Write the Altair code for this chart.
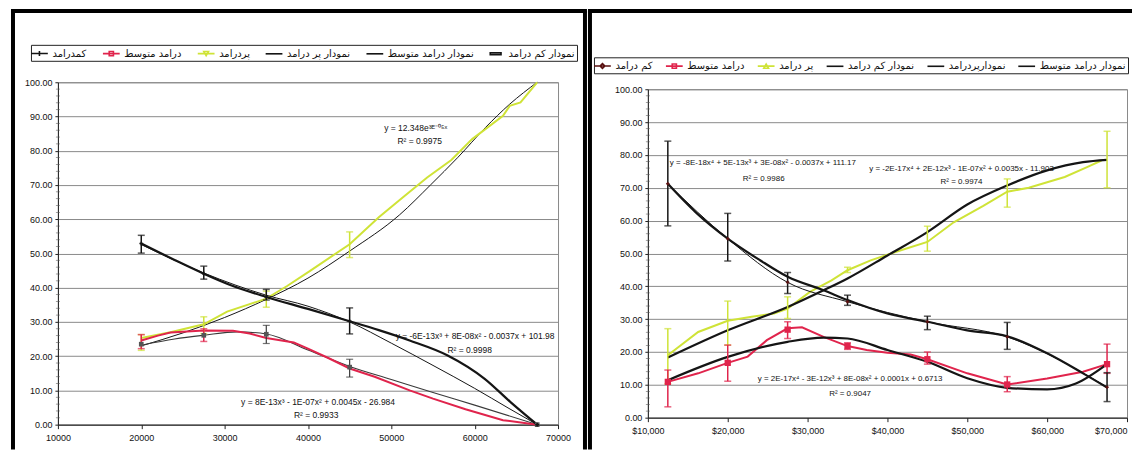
import altair as alt
import pandas as pd

# ---------------- shared axis ticks ----------------
Y_TICKS = [0, 10, 20, 30, 40, 50, 60, 70, 80, 90, 100]
Y_MINOR = [v for v in range(2, 100, 2) if v % 10 != 0]
X_TICKS = [10000, 20000, 30000, 40000, 50000, 60000, 70000]

# ---------------- LEFT PANEL ----------------
L_LEGEND = ["کمدرامد", "درامد متوسط", "پردرامد", "نمودار پر درامد", "نمودار درامد متوسط", "نمودار کم درامد"]

L_PT_X = [20000, 27500, 35000, 45000, 67500]
L_LOW_PT = [52.9, 44.1, 37.3, 30.2, 0.0]
L_MID_PT = [23.5, 26.1, 26.4, 16.8, 0.0]

L_ERR_X = [20000, 27500, 35000, 45000]
L_LOW_LO = [50.1, 42.5, 36.4, 26.5]
L_LOW_HI = [55.3, 46.3, 39.5, 34.1]
L_MID_LO = [22.2, 24.3, 23.7, 13.9]
L_MID_HI = [26.3, 28.0, 29.0, 19.1]
L_HIGH_LO = [21.7, 26.6, 34.3, 48.8]
L_HIGH_HI = [26.3, 31.5, 39.0, 56.3]

L_LOW_X = [20000, 24000, 27500, 31000, 35000, 40000, 45000, 48500, 52200, 56700, 61200, 64300, 67500]
L_LOW_Y = [52.9, 48.1, 44.1, 40.5, 37.3, 33.8, 30.2, 27.6, 24.6, 20.3, 13.4, 6.6, 0.0]
L_LOWT_X = [20000, 27500, 35000, 40000, 45000, 50000, 55000, 60000, 64000, 67500]
L_LOWT_Y = [52.6, 44.3, 37.8, 34.6, 30.0, 23.8, 17.3, 10.6, 4.9, 0.0]

L_MID_X = [20000, 22000, 23500, 27500, 31000, 33000, 35000, 38300, 40000, 42500, 45000, 48000, 52200, 55000, 58900, 63400, 67500]
L_MID_Y = [24.6, 26.0, 26.9, 27.5, 27.4, 26.6, 25.3, 24.0, 22.2, 19.4, 16.4, 14.0, 10.0, 7.6, 4.5, 1.3, 0.0]
L_MIDT_X = [20000, 24000, 27500, 31500, 35000, 40000, 45000, 50000, 55000, 60000, 67500]
L_MIDT_Y = [23.2, 25.0, 26.1, 27.1, 26.5, 21.8, 17.0, 13.2, 9.4, 5.7, 0.0]

L_HIGH_X = [20000, 23500, 27500, 30300, 35000, 37500, 40300, 45000, 48500, 51400, 54300, 57200, 59700, 63400, 64200, 65500, 67500]
L_HIGH_Y = [25.3, 27.0, 29.3, 33.0, 36.8, 40.5, 45.0, 52.7, 60.6, 66.4, 72.2, 77.3, 83.4, 90.2, 93.1, 94.1, 100.0]
L_HIGHT_X = [20000, 25000, 30000, 35000, 40000, 45000, 51000, 54700, 58000, 61300, 64200, 67500]
L_HIGHT_Y = [23.0, 26.8, 31.3, 36.6, 42.8, 50.7, 61.3, 70.0, 78.1, 86.8, 93.6, 100.0]

L_EQ_TEXT = ["y = 12.348e³ᴱ⁻⁰⁵ˣ", "R² = 0.9975",
             "y = -6E-13x³ + 8E-08x² - 0.0037x + 101.98", "R² = 0.9998",
             "y = 8E-13x³ - 1E-07x² + 0.0045x - 26.984", "R² = 0.9933"]
L_EQ_X = [52930, 53400, 60050, 59400, 41210, 40990]
L_EQ_Y = [86.7, 82.9, 25.8, 21.7, 6.6, 2.9]

# ---------------- RIGHT PANEL ----------------
R_LEGEND = ["کم درامد", "درامد متوسط", "پر درامد", "نمودار کم درامد", "نمودارپردرامد", "نمودار درامد متوسط"]

R_PT_X = [12500, 20000, 27500, 35000, 45000, 55000, 67500]
R_LOW_PT = [71.2, 54.5, 41.2, 35.3, 29.2, 24.6, 9.3]
R_LOW_LO = [58.4, 47.7, 37.8, 34.2, 26.8, 20.8, 4.9]
R_LOW_HI = [84.2, 62.2, 44.2, 37.3, 30.9, 29.0, 13.7]
R_MID_PT = [10.9, 16.7, 26.8, 21.8, 17.8, 10.1, 16.3]
R_MID_LO = [3.3, 11.1, 24.1, 20.8, 16.3, 7.9, 13.5]
R_MID_HI = [14.5, 22.1, 29.2, 22.8, 20.0, 12.5, 22.4]
R_HIGH_PT = [18.7, 28.8, 33.5, 45.0, 54.5, 68.4, 78.6]
R_HIGH_LO = [10.3, 22.1, 30.2, 44.2, 50.7, 64.1, 70.0]
R_HIGH_HI = [27.1, 35.5, 36.8, 45.8, 58.3, 72.7, 87.2]

R_LOWT_X = [12500, 16000, 20000, 24000, 27500, 32000, 35000, 40000, 45000, 50000, 55000, 60000, 64500, 67500]
R_LOWT_Y = [71.2, 62.5, 54.5, 48.0, 42.9, 38.8, 35.8, 31.7, 29.2, 26.6, 24.8, 19.6, 13.5, 9.2]

R_MID_X = [12500, 16300, 20000, 22500, 24900, 27500, 29300, 32000, 35000, 37400, 40000, 42900, 45000, 50000, 55000, 60000, 64500, 67500]
R_MID_Y = [10.9, 13.5, 16.7, 18.6, 23.6, 27.2, 27.5, 24.6, 21.8, 20.6, 19.8, 19.2, 17.8, 13.5, 10.1, 11.9, 14.0, 16.3]
R_MIDT_X = [12500, 20000, 27500, 32000, 35000, 40000, 45000, 50000, 55000, 60000, 63600, 67500]
R_MIDT_Y = [11.4, 18.5, 23.1, 24.4, 24.1, 20.6, 17.0, 12.0, 9.1, 8.6, 10.4, 16.3]

R_HIGH_X = [12500, 16300, 20000, 23000, 25800, 27500, 30300, 33000, 35000, 37900, 41100, 45000, 48300, 52000, 55000, 57700, 60000, 62200, 65000, 66800]
R_HIGH_Y = [19.0, 26.1, 29.5, 30.7, 31.7, 33.2, 38.3, 41.8, 44.9, 47.9, 50.5, 53.5, 59.5, 64.5, 68.8, 70.0, 71.7, 73.3, 76.3, 78.3]
R_HIGHT_X = [12500, 20000, 27500, 32000, 35000, 40000, 45000, 50000, 55000, 60000, 64500, 67500]
R_HIGHT_Y = [18.3, 26.6, 33.7, 38.8, 42.4, 49.4, 56.5, 64.9, 70.7, 75.3, 77.8, 78.5]

R_EQ_TEXT = ["y = -8E-18x⁴ + 5E-13x³ + 3E-08x² - 0.0037x + 111.17", "R² = 0.9986",
             "y = -2E-17x⁴ + 2E-12x³ - 1E-07x² + 0.0035x - 11.903", "R² = 0.9974",
             "y = 2E-17x⁴ - 3E-12x³ + 8E-08x² + 0.0001x + 0.6713", "R² = 0.9047"]
R_EQ_X = [24400, 24500, 49280, 49280, 35320, 35320]
R_EQ_Y = [77.6, 72.7, 75.8, 71.7, 11.7, 7.1]

# ---------------- styling ----------------
BLACK = "#151515"
RED = "#e0244c"
YELLOW = "#cfe337"
DARK = "#3a3a3a"
MAROON = "#5a1212"
AXFONT = "Liberation Sans"

SYM_PLUS = "M-1.4,0H1.4M0,-0.4V0.4"
SYM_SQUARE = "M-1.4,0H1.4M-0.35,-0.35H0.35V0.35H-0.35Z"
SYM_TRI_DOWN = "M-1.4,0H1.4M-0.4,-0.35H0.4L0,0.35Z"
SYM_TRI_UP = "M-1.4,0H1.4M-0.4,0.35H0.4L0,-0.35Z"
SYM_DIAMOND = "M-1.4,0H1.4M0,-0.4L0.4,0L0,0.4L-0.4,0Z"
SYM_LINE = "M-1.4,0H1.4"
SYM_BAR = "M-0.9,-0.15H0.9V0.15H-0.9Z"


def xenc(fmt, last_right=False):
    extra = {}
    if last_right:
        extra["labelAlign"] = {"condition": {"test": "datum.value >= 70000", "value": "right"}, "value": "center"}
    return alt.X("x:Q", scale=alt.Scale(domain=[10000, 70000], nice=False, zero=False),
                 axis=alt.Axis(values=X_TICKS, format=fmt, grid=False, title=None,
                               labelFont=AXFONT, labelFontSize=9, labelColor="#111",
                               tickSize=4, tickColor="#222", domainColor="#222",
                               labelPadding=5, labelAngle=0, labelFlush=False, **extra))


def yenc(field):
    return alt.Y(field, scale=alt.Scale(domain=[0, 100], nice=False, zero=True),
                 axis=alt.Axis(values=Y_TICKS, format=".2f", grid=True, title=None,
                               gridColor="#8a8a8a", gridWidth=1,
                               labelFont=AXFONT, labelFontSize=9, labelColor="#111",
                               tickSize=3, tickColor="#222", domainColor="#222",
                               labelPadding=3, labelFlush=False))


def line(xs, ys, color, width, xe, interp="linear"):
    df = pd.DataFrame({"x": xs, "y": ys})
    return alt.Chart(df).mark_line(color=color, strokeWidth=width, interpolate=interp).encode(
        x=xe, y=yenc("y:Q"))


def points(xs, ys, color, shape, size, xe):
    df = pd.DataFrame({"x": xs, "y": ys})
    return alt.Chart(df).mark_point(color=color, shape=shape, size=size, filled=True, opacity=1).encode(
        x=xe, y=yenc("y:Q"))


def minor_ticks(xe):
    df = pd.DataFrame({"x": [10000] * len(Y_MINOR), "y": Y_MINOR})
    return alt.Chart(df).mark_tick(color="#555", orient="horizontal", size=4, thickness=0.8).encode(
        x=xe, y=yenc("y:Q"))


def errbars(xs, lo, hi, color, xe, width=1.5, cap=7):
    df = pd.DataFrame({"x": xs, "lo": lo, "hi": hi})
    base = alt.Chart(df)
    r = base.mark_rule(color=color, strokeWidth=width).encode(x=xe, y=yenc("lo:Q"), y2="hi:Q")
    t1 = base.mark_tick(color=color, orient="horizontal", size=cap, thickness=width).encode(x=xe, y=yenc("lo:Q"))
    t2 = base.mark_tick(color=color, orient="horizontal", size=cap, thickness=width).encode(x=xe, y=yenc("hi:Q"))
    return [r, t1, t2]


def texts(xs, ys, labels, xe, size, align="center"):
    df = pd.DataFrame({"x": xs, "y": ys, "t": labels})
    return alt.Chart(df).mark_text(font=AXFONT, fontSize=size, color="#111", align=align).encode(
        x=xe, y=yenc("y:Q"), text="t:N")


ONE = pd.DataFrame({"a": [0]})


def hframe(x1, x2, y, w=4):
    return alt.Chart(ONE).mark_rule(color="black", strokeWidth=w).encode(
        x=alt.value(x1), x2=alt.value(x2), y=alt.value(y))


def vframe(x, y1, y2, w=4):
    return alt.Chart(ONE).mark_rule(color="black", strokeWidth=w).encode(
        x=alt.value(x), y=alt.value(y1), y2=alt.value(y2))


def legend_layer(labels, colors, shapes, lx, ly, colpad):
    leg = alt.Legend(orient="none", legendX=lx, legendY=ly, direction="horizontal", title=None,
                     labelFont="DejaVu Sans", labelFontSize=10, labelColor="#111",
                     symbolSize=144, symbolStrokeWidth=1.6, symbolOpacity=1,
                     strokeColor="#222", fillColor="white", padding=1.5,
                     columnPadding=colpad, labelOffset=6, labelLimit=300)
    df = pd.DataFrame({"item": labels})
    return alt.Chart(df).mark_point(opacity=0, filled=False).encode(
        color=alt.Color("item:N", scale=alt.Scale(domain=labels, range=colors), legend=leg),
        shape=alt.Shape("item:N", scale=alt.Scale(domain=labels, range=shapes), legend=leg))


# ---------------- LEFT PANEL BUILD ----------------
LW, LH = 501, 343
xl = xenc("d")
left_layers = [
    line(L_HIGHT_X, L_HIGHT_Y, BLACK, 1.0, xl, "monotone"),
    line(L_HIGH_X, L_HIGH_Y, YELLOW, 2.0, xl),
    line(L_MIDT_X, L_MIDT_Y, DARK, 1.1, xl, "monotone"),
    line(L_MID_X, L_MID_Y, RED, 2.0, xl),
    line(L_LOWT_X, L_LOWT_Y, BLACK, 1.0, xl, "monotone"),
    line(L_LOW_X, L_LOW_Y, BLACK, 2.2, xl, "monotone"),
]
left_layers += errbars(L_ERR_X, L_HIGH_LO, L_HIGH_HI, YELLOW, xl)
left_layers += errbars(L_ERR_X[:2], L_MID_LO[:2], L_MID_HI[:2], RED, xl)
left_layers += errbars(L_ERR_X[2:], L_MID_LO[2:], L_MID_HI[2:], DARK, xl, width=1.2)
left_layers += errbars(L_ERR_X, L_LOW_LO, L_LOW_HI, BLACK, xl)
left_layers += [
    minor_ticks(xl),
    points(L_PT_X, L_MID_PT, "#555", "square", 22, xl),
    points(L_PT_X, L_LOW_PT, BLACK, "cross", 14, xl),
    texts(L_EQ_X, L_EQ_Y, L_EQ_TEXT, xl, 8.5),
    legend_layer(L_LEGEND, [BLACK, RED, YELLOW, BLACK, BLACK, BLACK],
                 [SYM_PLUS, SYM_SQUARE, SYM_TRI_DOWN, SYM_LINE, SYM_LINE, SYM_BAR], -27, -37.5, 12),
    hframe(-47, 530, -71.5),
    vframe(-45, -71.5, 368),
    vframe(528, -71.5, 368),
]
left = alt.layer(*left_layers).properties(width=LW, height=LH)

# ---------------- RIGHT PANEL BUILD ----------------
RW, RH = 480, 329
xr = xenc("$,d", last_right=True)
right_layers = [
    line(R_HIGH_X, R_HIGH_Y, YELLOW, 2.0, xr),
    line(R_MID_X, R_MID_Y, RED, 2.0, xr),
    line(R_PT_X, R_LOW_PT, BLACK, 1.0, xr, "monotone"),
    line(R_LOWT_X, R_LOWT_Y, BLACK, 2.2, xr, "monotone"),
    line(R_HIGHT_X, R_HIGHT_Y, BLACK, 2.2, xr, "monotone"),
    line(R_MIDT_X, R_MIDT_Y, BLACK, 2.2, xr, "monotone"),
]
right_layers += errbars(R_PT_X, R_HIGH_LO, R_HIGH_HI, YELLOW, xr)
right_layers += errbars(R_PT_X, R_MID_LO, R_MID_HI, RED, xr)
right_layers += errbars(R_PT_X, R_LOW_LO, R_LOW_HI, BLACK, xr)
right_layers += [
    minor_ticks(xr),
    points(R_PT_X, R_MID_PT, RED, "square", 40, xr),
    points(R_PT_X, R_LOW_PT, MAROON, "diamond", 16, xr),
    texts(R_EQ_X, R_EQ_Y, R_EQ_TEXT, xr, 8),
    legend_layer(R_LEGEND, [MAROON, RED, YELLOW, BLACK, BLACK, BLACK],
                 [SYM_DIAMOND, SYM_SQUARE, SYM_TRI_UP, SYM_LINE, SYM_LINE, SYM_LINE], -54, -32, 9),
    hframe(-60, 485, -78.5),
    vframe(-58, -78.5, 361),
]
right = alt.layer(*right_layers).properties(width=RW, height=RH)

chart = alt.hconcat(left, right, spacing=90, bounds="flush", center=True).resolve_scale(
    color="independent", shape="independent"
).resolve_legend(
    color="independent", shape="independent"
).configure_view(stroke="#8a8a8a", strokeWidth=1).properties(
    padding=0, background="white"
)

chart.save("out.html", embed_options={"renderer": "svg", "actions": False})
